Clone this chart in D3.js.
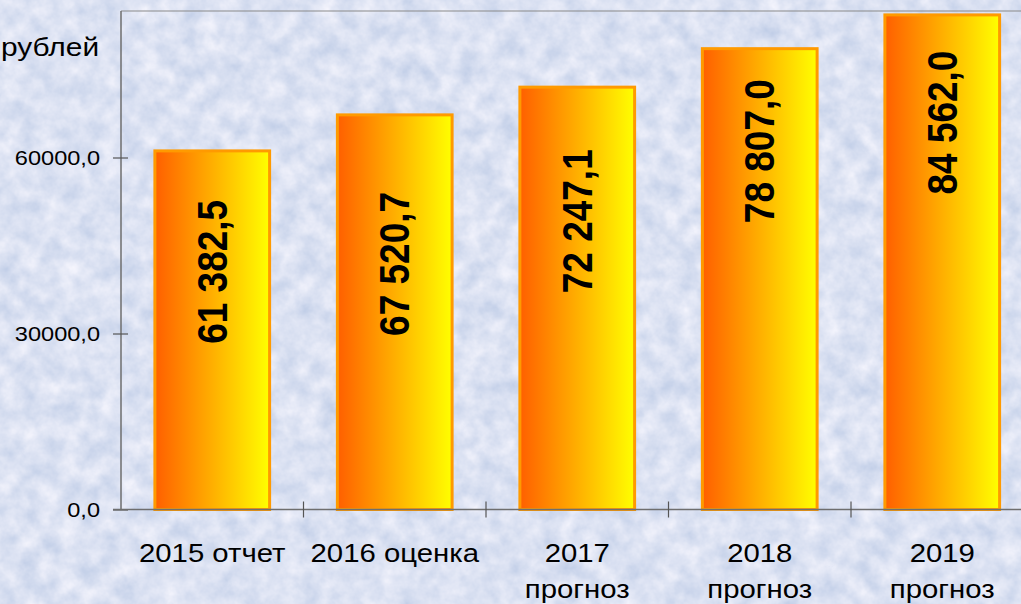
<!DOCTYPE html>
<html><head><meta charset="utf-8">
<script src="https://cdn.jsdelivr.net/npm/d3@7"></script>
<style>html,body{margin:0;padding:0;background:#d8e6f3;overflow:hidden}</style>
</head><body>
<script>
const categories = [["2015 отчет"], ["2016 оценка"], ["2017", "прогноз"], ["2018", "прогноз"], ["2019", "прогноз"]];
const values = [61382.5, 67520.7, 72247.1, 78807.0, 84562.0];
const valueLabels = ["61 382,5", "67 520,7", "72 247,1", "78 807,0", "84 562,0"];
const yTicks = [0, 30000, 60000];
const yTickLabels = ["0,0", "30000,0", "60000,0"];
const unitLabel = "рублей";

const W = 1021, H = 604, SX = 1.15;
const svg = d3.select("body").append("svg").attr("width", W).attr("height", H);
const defs = svg.append("defs");

// background texture
const f = defs.append("filter").attr("id", "tex").attr("x", 0).attr("y", 0).attr("width", "100%").attr("height", "100%")
  .attr("color-interpolation-filters", "sRGB");
f.append("feTurbulence").attr("type", "fractalNoise").attr("baseFrequency", 0.05).attr("numOctaves", 4).attr("seed", 7);
f.append("feColorMatrix").attr("type", "matrix").attr("values",
  "0.24 0 0 0 0.74  0.18 0 0 0 0.795  0.10 0 0 0 0.90  0 0 0 0 1");
svg.append("rect").attr("width", W).attr("height", H).attr("filter", "url(#tex)");

const grad = defs.append("linearGradient").attr("id", "barGrad").attr("x1", 0).attr("x2", 1).attr("y1", 0).attr("y2", 0);
grad.append("stop").attr("offset", "0%").attr("stop-color", "#ff5f00");
grad.append("stop").attr("offset", "100%").attr("stop-color", "#ffff00");

const x0 = 121, step = 182.5;
const x = d3.scaleBand().domain(d3.range(values.length)).range([x0, x0 + step * values.length])
  .paddingInner(0.355).paddingOuter(0.1775);
const y = d3.scaleLinear().domain([0, 60000]).range([509.5, 157.5]);
const plotTop = 11;

// plot top border
svg.append("line").attr("x1", x0).attr("x2", W).attr("y1", plotTop).attr("y2", plotTop)
  .attr("stroke", "#8a8a8a").attr("stroke-width", 1.2);

// bars
const bw = 3;
svg.selectAll("rect.bar").data(values).join("rect").attr("class", "bar")
  .attr("x", (d, i) => x(i) + bw / 2).attr("width", x.bandwidth() - bw)
  .attr("y", d => y(d) + bw / 2).attr("height", d => y(0) - y(d) - bw / 2)
  .attr("fill", "url(#barGrad)").attr("stroke", "#ff9a00").attr("stroke-width", bw);

// value labels (rotated)
const labelFrac = [0.66, 0.62, 0.68, 0.775, 0.78];
svg.selectAll("text.vl").data(values).join("text").attr("class", "vl")
  .attr("transform", (d, i) => `translate(${x(i) + x.bandwidth() / 2 - 1},${y(d * labelFrac[i])}) scale(${SX},1) rotate(-90)`)
  .attr("text-anchor", "middle").attr("dy", "0.36em")
  .attr("font-family", "Liberation Sans, Arial, sans-serif").attr("font-weight", "bold")
  .attr("font-size", 37).attr("fill", "#000")
  .text((d, i) => valueLabels[i]);

// y axis
const yAxis = d3.axisLeft(y).tickValues(yTicks).tickFormat("").tickSizeOuter(0);
const gy = svg.append("g").attr("transform", `translate(${x0},0)`).call(yAxis);
gy.select(".domain").attr("d", `M0,${plotTop}V${y(0)}`).attr("stroke", "#6e6e6e").attr("stroke-width", 1.5);
gy.selectAll(".tick line").attr("x1", 7).attr("x2", -8).attr("stroke", "#555").attr("stroke-width", 1.2);
svg.selectAll("text.yt").data(yTicks).join("text").attr("class", "yt")
  .attr("transform", d => `translate(100,${y(d)}) scale(${SX},1)`)
  .attr("text-anchor", "end").attr("dy", "0.35em")
  .attr("font-family", "Liberation Sans, Arial, sans-serif").attr("font-size", 20.5).attr("fill", "#000")
  .text((d, i) => yTickLabels[i]);

// x axis
svg.append("line").attr("x1", x0 - 8).attr("x2", W).attr("y1", y(0)).attr("y2", y(0))
  .attr("stroke", "#6e6e6e").attr("stroke-width", 1.5);
svg.selectAll("line.xt").data(d3.range(1, values.length + 1)).join("line").attr("class", "xt")
  .attr("x1", i => x0 + i * x.step()).attr("x2", i => x0 + i * x.step())
  .attr("y1", y(0) - 8).attr("y2", y(0) + 8).attr("stroke", "#555").attr("stroke-width", 1.2);

const cat = svg.selectAll("g.cat").data(categories).join("g").attr("class", "cat")
  .attr("transform", (d, i) => `translate(${x(i) + x.bandwidth() / 2},562) scale(${SX},1)`);
cat.selectAll("text").data(d => d).join("text")
  .attr("y", (d, j) => j * 36).attr("text-anchor", "middle")
  .attr("font-family", "Liberation Sans, Arial, sans-serif").attr("font-size", 25.5).attr("fill", "#000")
  .text(d => d);

// unit label
svg.append("text").attr("transform", `translate(1,56) scale(${SX},1)`).attr("text-anchor", "start")
  .attr("font-family", "Liberation Sans, Arial, sans-serif").attr("font-size", 26).attr("fill", "#000")
  .text(unitLabel);
</script>
</body></html>
